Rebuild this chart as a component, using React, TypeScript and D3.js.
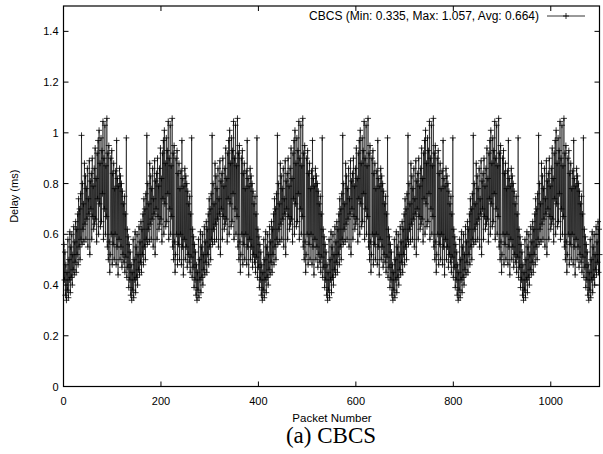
import React from "react";
import * as d3 from "d3";

// One cycle of delay values (ms); the trace repeats this cycle every 134 packets
const cycleDelay: number[] = [
  0.34, 0.45, 0.38, 0.58, 0.35, 0.50, 0.42, 0.61, 0.37, 0.55,
  0.43, 0.60, 0.40, 0.52, 0.46, 0.63, 0.44, 0.57, 0.49, 0.65,
  0.45, 0.62, 0.52, 0.68, 0.48, 0.74, 0.55, 0.70, 0.50, 0.76,
  0.58, 0.99, 0.56, 0.80, 0.62, 0.72, 0.57, 0.88, 0.64, 0.83,
  0.58, 0.78, 0.66, 0.86, 0.55, 0.74, 0.68, 0.89, 0.52, 0.81,
  0.70, 0.84, 0.58, 0.90, 0.67, 0.79, 0.62, 0.86, 0.64, 0.94,
  0.66, 0.82, 0.57, 0.92, 0.74, 0.97, 0.60, 1.01, 0.72, 0.88,
  0.63, 0.98, 0.65, 0.93, 0.76, 1.045, 0.58, 0.90, 0.70, 1.03,
  0.60, 0.87, 0.67, 1.057, 0.55, 0.92, 0.50, 0.95, 0.57, 0.45,
  0.52, 0.90, 0.60, 0.93, 0.48, 0.84, 0.56, 0.88, 0.50, 0.78,
  0.60, 0.85, 0.48, 0.97, 0.55, 0.82, 0.44, 0.79, 0.58, 0.86,
  0.50, 0.83, 0.55, 0.80, 0.47, 0.77, 0.52, 0.72, 0.49, 0.75,
  0.45, 0.68, 0.51, 0.98, 0.43, 0.62, 0.47, 0.59, 0.39, 0.56,
  0.42, 0.53, 0.36, 0.48,
];
const cycleStartPacket = 6; // packet at which the cycle's first (minimum) value appears
const packetCount = 1100;

const xTicks: number[] = [0, 200, 400, 600, 800, 1000];
const yTicks: number[] = [0, 0.2, 0.4, 0.6, 0.8, 1, 1.2, 1.4];
const legendLabel = "CBCS (Min: 0.335, Max: 1.057, Avg: 0.664)";
const xLabel = "Packet Number";
const yLabel = "Delay (ms)";
const caption = "(a) CBCS";

const packets: number[] = d3.range(1, packetCount + 1);
const n = cycleDelay.length;
const delays: number[] = packets.map(
  (p) => cycleDelay[(((p - cycleStartPacket) % n) + n) % n]
);

export default function App() {
  const W = 603;
  const H = 454;
  const left = 63.5;
  const right = 599.5;
  const top = 6;
  const bottom = 386.5;
  const x = d3.scaleLinear().domain([0, 1100]).range([left, right]);
  const y = d3.scaleLinear().domain([0, 1.5]).range([bottom, top]);
  const line = d3
    .line<number>()
    .x((_, i) => x(packets[i]))
    .y((d) => y(d));
  const font = "'Liberation Sans', Arial, sans-serif";
  const tick = 5;
  const ms = 3;
  const markerPath = delays
    .map((d, i) => {
      const px = x(packets[i]);
      const py = y(d);
      return `M${px - ms},${py}H${px + ms}M${px},${py - ms}V${py + ms}`;
    })
    .join("");
  const legY = 16;
  const legX0 = 547;
  const legX1 = 585;
  return (
    <svg
      width={W}
      height={H}
      style={{ position: "absolute", left: 0, top: 0, background: "#fff" }}
    >
      <rect x={0} y={0} width={W} height={H} fill="#fff" />
      <path d={line(delays) || ""} fill="none" stroke="#000" strokeWidth={0.6} />
      <path d={markerPath} fill="none" stroke="#000" strokeWidth={0.8} />
      <rect
        x={left}
        y={top}
        width={right - left}
        height={bottom - top}
        fill="none"
        stroke="#000"
        strokeWidth={1.2}
      />
      {yTicks.map((t) => (
        <g key={"y" + t}>
          <line x1={left} x2={left + tick} y1={y(t)} y2={y(t)} stroke="#000" />
          <line x1={right} x2={right - tick} y1={y(t)} y2={y(t)} stroke="#000" />
          <text
            x={left - 5}
            y={y(t) + 4}
            textAnchor="end"
            fontFamily={font}
            fontSize={11}
          >
            {String(t)}
          </text>
        </g>
      ))}
      {xTicks.map((t) => (
        <g key={"x" + t}>
          <line x1={x(t)} x2={x(t)} y1={bottom} y2={bottom - tick} stroke="#000" />
          <line x1={x(t)} x2={x(t)} y1={top} y2={top + tick} stroke="#000" />
          <text
            x={x(t)}
            y={405}
            textAnchor="middle"
            fontFamily={font}
            fontSize={11}
          >
            {String(t)}
          </text>
        </g>
      ))}
      <text x={332} y={422} textAnchor="middle" fontFamily={font} fontSize={11.5}>
        {xLabel}
      </text>
      <text
        transform={`translate(18,${(top + bottom) / 2}) rotate(-90)`}
        textAnchor="middle"
        fontFamily={font}
        fontSize={11}
      >
        {yLabel}
      </text>
      <text
        x={331}
        y={443}
        textAnchor="middle"
        fontFamily="'Liberation Serif', 'Times New Roman', serif"
        fontSize={23}
      >
        {caption}
      </text>
      <text
        x={legX0 - 8}
        y={legY + 4}
        textAnchor="end"
        fontFamily={font}
        fontSize={12}
      >
        {legendLabel}
      </text>
      <line x1={legX0} x2={legX1} y1={legY} y2={legY} stroke="#000" strokeWidth={0.8} />
      <path
        d={`M${(legX0 + legX1) / 2 - ms},${legY}H${(legX0 + legX1) / 2 + ms}M${(legX0 + legX1) / 2},${legY - ms}V${legY + ms}`}
        stroke="#000"
        strokeWidth={0.8}
      />
    </svg>
  );
}
